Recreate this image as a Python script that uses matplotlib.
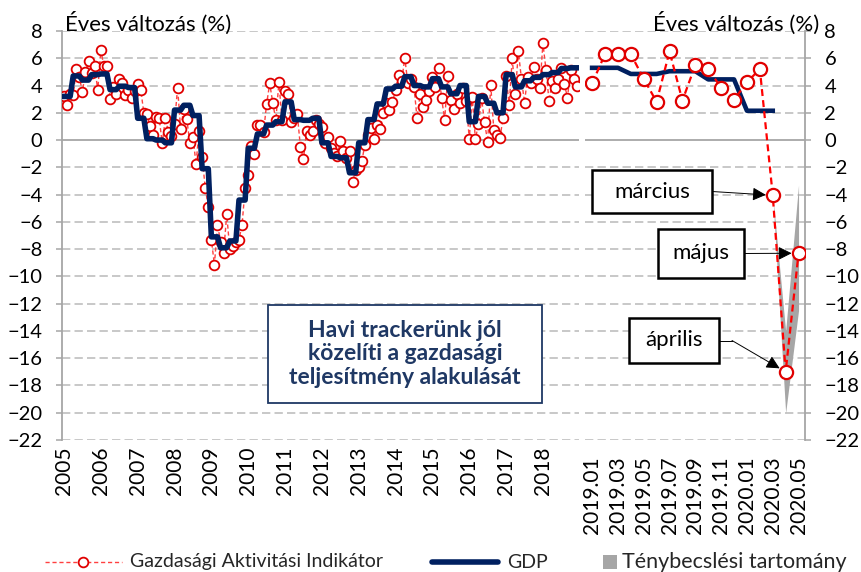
import numpy as np
import matplotlib
matplotlib.use("Agg")
import matplotlib.pyplot as plt
from matplotlib.patches import Rectangle
from matplotlib.lines import Line2D

plt.rcParams['font.family'] = ['Lato', 'DejaVu Sans']
plt.rcParams['lines.scale_dashes'] = False

# ---- data -------------------------------------------------------------
years = [str(y) for y in range(2005, 2019)]

# Gazdasági Aktivitási Indikátor, monthly, 2005.01-2018.12 (annual change, %)
gai_2005 = [3.2, 2.6, 3.4, 3.3, 5.2, 4.6, 3.55, 5.0, 5.8, 4.9, 5.4, 3.65]
gai_2006 = [6.6, 5.4, 5.45, 3.0, 3.9, 3.4, 4.45, 4.2, 3.3, 3.65, 3.05, 3.6]
gai_2007 = [4.1, 3.7, 2.0, 1.9, 1.0, 0.4, 1.7, 1.6, -0.25, 1.6, 0.6, 0.3]
gai_2008 = [1.2, 3.85, 0.8, 2.3, 1.55, -0.25, 0.25, -1.75, 0.7, -1.25, -3.5, -4.9]
gai_2009 = [-7.3, -9.15, -6.2, -7.45, -8.25, -5.45, -8.0, -7.8, -7.5, -7.3, -6.2, -3.55]
gai_2010 = [-2.55, -0.4, -1.05, 1.1, 1.1, 0.6, 2.65, 4.15, 2.75, 1.45, 4.25, 1.5]
gai_2011 = [3.6, 3.4, 1.35, 1.6, 1.9, -0.5, -1.4, 0.65, 0.4, 0.65, 1.45, 1.2]
gai_2012 = [0.95, -0.25, 0.2, -0.6, -0.95, -1.2, -0.05, -0.8, -1.3, -0.8, -3.1, -2.2]
gai_2013 = [-2.0, -1.55, -0.35, 0.35, 0.9, 0.1, 1.1, 0.8, 2.0, 2.7, 2.2, 2.8]
gai_2014 = [3.65, 4.8, 4.3, 6.05, 4.15, 4.5, 3.9, 1.6, 3.4, 2.45, 2.95, 3.6]
gai_2015 = [4.65, 3.9, 5.25, 3.05, 1.5, 4.7, 2.95, 2.3, 3.4, 2.75, 3.8, 2.9]
gai_2016 = [0.1, 3.15, 0.05, 1.2, 3.05, 1.3, -0.15, 4.05, 0.75, 0.35, 0.15, 1.6]
gai_2017 = [4.7, 2.55, 6.0, 3.35, 6.5, 4.5, 2.75, 4.65, 4.2, 5.35, 4.5, 3.85]
gai_2018 = [7.1, 5.15, 2.85, 4.3, 3.8, 4.45, 5.3, 4.1, 3.1, 5.15, 4.5, 4.0]

# GDP, quarterly, 2005Q1-2018Q4 (annual change, %)
gdp_quarterly = [3.2, 4.7, 4.4, 4.8,
                 4.85, 3.7, 3.95, 3.85,
                 1.6, 0.1, 0.0, -0.2,
                 2.2, 2.55, 1.8, -2.1,
                 -7.1, -7.9, -7.4, -4.4,
                 -0.6, 0.45, 1.1, 1.35,
                 2.8, 1.5, 1.45, 1.6,
                 -0.2, -1.2, -1.3, -2.4,
                 -0.2, 1.5, 2.65, 3.75,
                 3.95, 4.65, 4.0, 3.9,
                 4.5, 3.9, 3.4, 4.0,
                 1.35, 3.2, 2.7, 2.0,
                 4.8, 3.9, 4.35, 4.6,
                 4.8, 4.95, 5.25, 5.3]

recent_months = ['2019.01', '2019.02', '2019.03', '2019.04', '2019.05', '2019.06',
                 '2019.07', '2019.08', '2019.09', '2019.10', '2019.11', '2019.12',
                 '2020.01', '2020.02', '2020.03', '2020.04', '2020.05']
gai_recent = [4.15, 6.3, 6.3, 6.3, 4.5, 2.8, 6.5, 2.9, 5.5, 5.2, 3.85, 2.95,
              4.25, 5.2, -4.05, -17.0, -8.3]
gdp_recent_quarterly = [5.3, 4.85, 5.05, 4.45, 2.15]

# nowcast range for 2020.03-2020.05
band_months = ['2020.03', '2020.04', '2020.05']
band_lower = [-4.05, -20.0, -12.5]
band_upper = [-4.05, -14.0, -3.3]

annotated = ['2020.03', '2020.05', '2020.04']
annotation_text = ['március', 'május', 'április']

# ---- styling ----------------------------------------------------------
W, H = 861, 572
NAVY = '#002060'
RED = '#E00000'
GRID = '#BFBFBF'
AXIS = '#A6A6A6'


def fx(x):
    return x / W


def fy(y):
    return 1 - y / H


fig = plt.figure(figsize=(W / 100, H / 100), dpi=100)
ax1 = fig.add_axes([fx(62), fy(440), 517 / W, 409 / H])
ax2 = fig.add_axes([fx(585), fy(440), 220 / W, 409 / H])

yticks = list(range(-22, 9, 2))
for ax in (ax1, ax2):
    ax.set_ylim(-22, 8)
    ax.set_yticks(yticks)
    for y in yticks:
        if y == 0:
            ax.axhline(0, color=AXIS, lw=1.3, zorder=1)
        else:
            ax.axhline(y, color=GRID, lw=1.2, dashes=(6, 3), zorder=1)
    for s in ('top', 'bottom'):
        ax.spines[s].set_visible(False)
    ax.tick_params(axis='x', length=0, labelsize=15, labelrotation=90)
    ax.tick_params(axis='y', length=4, width=1.1, color=AXIS, labelsize=14.5, pad=10)

ax1.spines['right'].set_visible(False)
ax1.spines['left'].set_color(AXIS)
ax1.spines['left'].set_linewidth(1.3)
ax2.spines['left'].set_visible(False)
ax2.spines['right'].set_color(AXIS)
ax2.spines['right'].set_linewidth(1.3)
ax2.yaxis.tick_right()

# ---- left panel: 2005-2018 -------------------------------------------
gai_hist = np.concatenate([gai_2005, gai_2006, gai_2007, gai_2008, gai_2009,
                           gai_2010, gai_2011, gai_2012, gai_2013, gai_2014,
                           gai_2015, gai_2016, gai_2017, gai_2018])
gdp_hist = np.repeat(gdp_quarterly, 3)
xm = np.arange(len(gai_hist))

ax1.plot(xm, gai_hist, color='#FF4040', lw=1.0, dashes=(3, 2),
         marker='o', ms=7, mfc='white', mec=RED, mew=1.3, zorder=3)
ax1.plot(xm, gdp_hist, color=NAVY, lw=4.0, solid_joinstyle='round', zorder=4)
ax1.set_xlim(-0.65, len(gai_hist) - 0.25)
ax1.set_xticks(np.arange(0, len(gai_hist), 12))
ax1.set_xticklabels(years)
ax1.tick_params(axis='x', pad=5)

# ---- right panel: 2019.01-2020.05 -------------------------------------
xr = np.arange(len(recent_months))
gdp_recent = np.repeat(gdp_recent_quarterly, 3)
bx = [recent_months.index(m) for m in band_months]
ax2.fill_between(bx, band_lower, band_upper, color='#A6A6A6', lw=0, zorder=2)
ax2.plot(xr[:len(gdp_recent)], gdp_recent, color=NAVY, lw=3.3,
         solid_joinstyle='round', zorder=3)
ax2.plot(xr, gai_recent, color='#FF0000', lw=1.6, dashes=(5, 3),
         marker='o', ms=9.5, mfc='white', mec=RED, mew=1.6, zorder=4)
ax2.set_xlim(-0.55, len(recent_months) - 0.5)
ax2.set_xticks(xr[::2])
ax2.set_xticklabels(recent_months[::2])
ax2.tick_params(axis='x', pad=12)

# ---- axis titles ------------------------------------------------------
fig.text(fx(65), fy(31), 'Éves változás (%)', ha='left', va='baseline', fontsize=16)
fig.text(fx(819), fy(31), 'Éves változás (%)', ha='right', va='baseline', fontsize=16)

# ---- month call-outs --------------------------------------------------
boxes = {'március': (592, 170, 712, 213),
         'május': (658, 229, 744, 278),
         'április': (629, 318, 719, 363)}
for month, label in zip(annotated, annotation_text):
    x0, y0, x1, y1 = boxes[label]
    fig.add_artist(Rectangle((fx(x0), fy(y1)), (x1 - x0) / W, (y1 - y0) / H,
                             transform=fig.transFigure, facecolor='white',
                             edgecolor='black', lw=1.8, zorder=10))
    fig.text(fx((x0 + x1) / 2), fy((y0 + y1) / 2), label, ha='center',
             va='center', fontsize=16, zorder=11)
    j = recent_months.index(month)
    start = (fx(x1), fy((y0 + y1) / 2))
    if label == 'április':
        bend = (fx(x1 + 13), fy((y0 + y1) / 2))
        fig.add_artist(Line2D([start[0], bend[0]], [start[1], bend[1]],
                              transform=fig.transFigure, color='black', lw=0.7,
                              zorder=9))
        start = bend
    ax2.annotate('', xy=(j, gai_recent[j]), xycoords='data', xytext=start,
                 textcoords='figure fraction', zorder=9,
                 arrowprops=dict(arrowstyle='-|>', color='black', lw=0.7,
                                 mutation_scale=20, shrinkA=0, shrinkB=5))

# ---- comment box ------------------------------------------------------
fig.add_artist(Rectangle((fx(268), fy(403)), 274 / W, 98 / H,
                         transform=fig.transFigure, facecolor='white',
                         edgecolor='#1F3864', lw=1.3, zorder=10))
fig.text(fx(405), fy(354), 'Havi trackerünk jól\nközelíti a gazdasági\nteljesítmény alakulását',
         ha='center', va='center', fontsize=16.5, fontweight='bold',
         color='#1F3864', linespacing=1.15, zorder=11)

# ---- legend -----------------------------------------------------------
ly = fy(562)
fig.add_artist(Line2D([fx(45), fx(122)], [ly, ly], transform=fig.transFigure,
                      color='#FF4040', lw=1.0, dashes=(3, 2)))
fig.add_artist(Line2D([fx(83)], [ly], transform=fig.transFigure, marker='o',
                      ms=7, mfc='white', mec=RED, mew=1.3))
fig.text(fx(130), ly, 'Gazdasági Aktivitási Indikátor', ha='left', va='center',
         fontsize=14, color='#262626')
fig.add_artist(Line2D([fx(432), fx(498)], [ly, ly], transform=fig.transFigure,
                      color=NAVY, lw=4.0, solid_capstyle='round'))
fig.text(fx(507), ly, 'GDP', ha='left', va='center', fontsize=14, color='#262626')
fig.add_artist(Rectangle((fx(603), fy(569)), 14 / W, 14 / H,
                         transform=fig.transFigure, facecolor='#A6A6A6', lw=0))
fig.text(fx(622), ly, 'Ténybecslési tartomány', ha='left', va='center',
         fontsize=15.5, color='#262626')

fig.savefig('out.png', dpi=100)
